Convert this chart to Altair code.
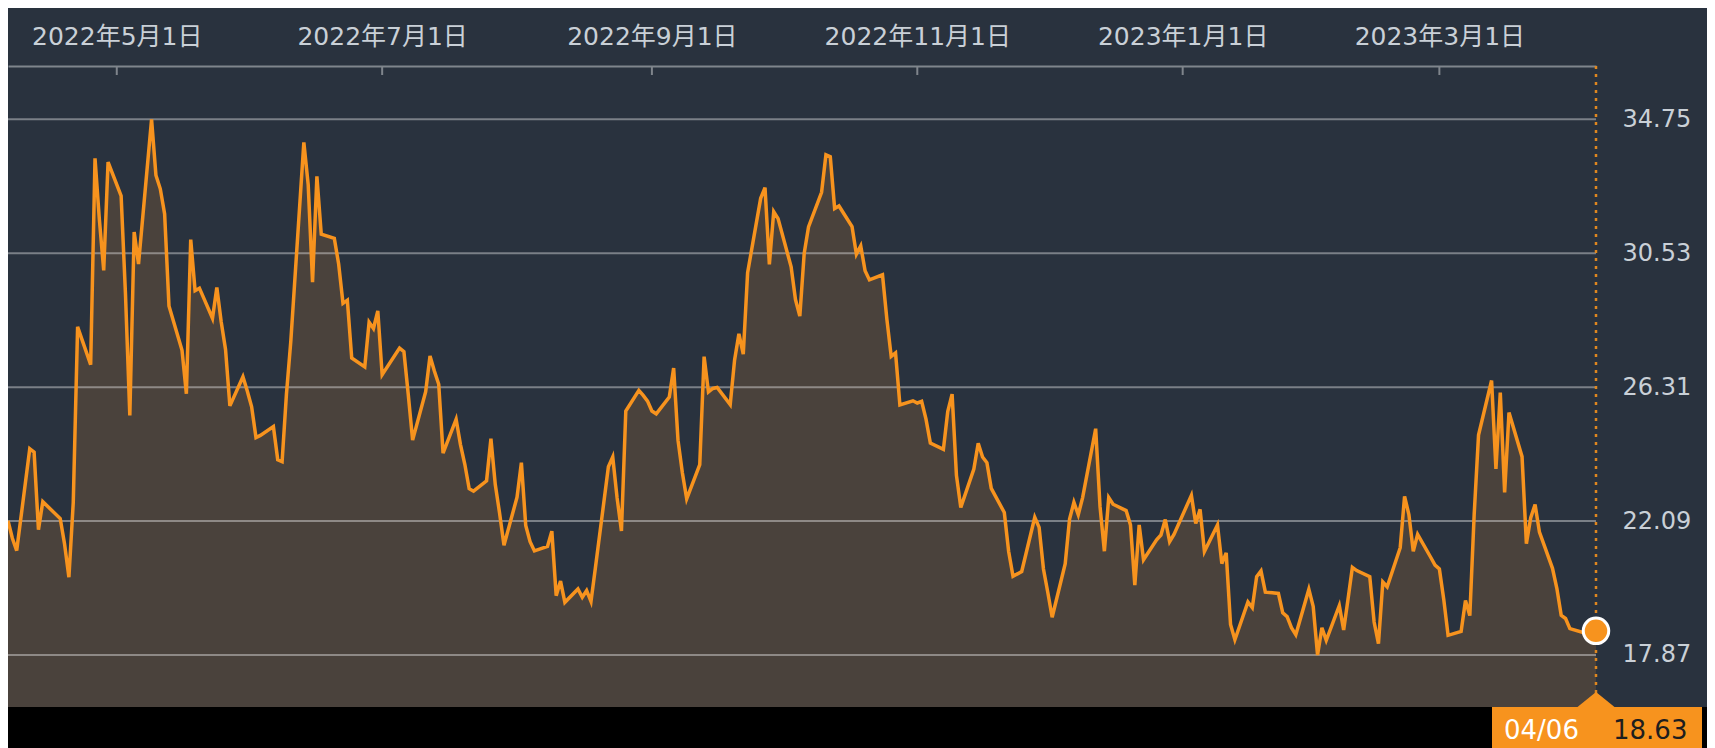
import altair as alt
import pandas as pd

# ---------------- data ----------------
dates = [
    "2022-04-06", "2022-04-07", "2022-04-08", "2022-04-11", "2022-04-12", "2022-04-13", "2022-04-14",
    "2022-04-18", "2022-04-19", "2022-04-20", "2022-04-21", "2022-04-22", "2022-04-25", "2022-04-26",
    "2022-04-27", "2022-04-28", "2022-04-29", "2022-05-02", "2022-05-03", "2022-05-04", "2022-05-05",
    "2022-05-06", "2022-05-09", "2022-05-10", "2022-05-11", "2022-05-12", "2022-05-13", "2022-05-16",
    "2022-05-17", "2022-05-18", "2022-05-19", "2022-05-20", "2022-05-23", "2022-05-24", "2022-05-25",
    "2022-05-26", "2022-05-27", "2022-05-30", "2022-05-31", "2022-06-01", "2022-06-02", "2022-06-03",
    "2022-06-06", "2022-06-07", "2022-06-08", "2022-06-09", "2022-06-10", "2022-06-13", "2022-06-14",
    "2022-06-15", "2022-06-16", "2022-06-17", "2022-06-20", "2022-06-21", "2022-06-22", "2022-06-23",
    "2022-06-24", "2022-06-27", "2022-06-28", "2022-06-29", "2022-06-30", "2022-07-01", "2022-07-05",
    "2022-07-06", "2022-07-07", "2022-07-08", "2022-07-11", "2022-07-12", "2022-07-13", "2022-07-14",
    "2022-07-15", "2022-07-18", "2022-07-19", "2022-07-20", "2022-07-21", "2022-07-22", "2022-07-25",
    "2022-07-26", "2022-07-27", "2022-07-28", "2022-07-29", "2022-08-01", "2022-08-02", "2022-08-03",
    "2022-08-04", "2022-08-05", "2022-08-08", "2022-08-09", "2022-08-10", "2022-08-11", "2022-08-12",
    "2022-08-15", "2022-08-16", "2022-08-17", "2022-08-18", "2022-08-19", "2022-08-22", "2022-08-23",
    "2022-08-24", "2022-08-25", "2022-08-26", "2022-08-29", "2022-08-30", "2022-08-31", "2022-09-01",
    "2022-09-02", "2022-09-05", "2022-09-06", "2022-09-07", "2022-09-08", "2022-09-09", "2022-09-12",
    "2022-09-13", "2022-09-14", "2022-09-15", "2022-09-16", "2022-09-19", "2022-09-20", "2022-09-21",
    "2022-09-22", "2022-09-23", "2022-09-26", "2022-09-27", "2022-09-28", "2022-09-29", "2022-09-30",
    "2022-10-03", "2022-10-04", "2022-10-05", "2022-10-06", "2022-10-07", "2022-10-10", "2022-10-11",
    "2022-10-12", "2022-10-13", "2022-10-14", "2022-10-17", "2022-10-18", "2022-10-19", "2022-10-20",
    "2022-10-21", "2022-10-24", "2022-10-25", "2022-10-26", "2022-10-27", "2022-10-28", "2022-10-31",
    "2022-11-01", "2022-11-02", "2022-11-03", "2022-11-04", "2022-11-07", "2022-11-08", "2022-11-09",
    "2022-11-10", "2022-11-11", "2022-11-14", "2022-11-15", "2022-11-16", "2022-11-17", "2022-11-18",
    "2022-11-21", "2022-11-22", "2022-11-23", "2022-11-25", "2022-11-28", "2022-11-29", "2022-11-30",
    "2022-12-01", "2022-12-02", "2022-12-05", "2022-12-06", "2022-12-07", "2022-12-08", "2022-12-09",
    "2022-12-12", "2022-12-13", "2022-12-14", "2022-12-15", "2022-12-16", "2022-12-19", "2022-12-20",
    "2022-12-21", "2022-12-22", "2022-12-23", "2022-12-26", "2022-12-27", "2022-12-28", "2022-12-29",
    "2022-12-30", "2023-01-03", "2023-01-04", "2023-01-05", "2023-01-06", "2023-01-09", "2023-01-10",
    "2023-01-11", "2023-01-12", "2023-01-13", "2023-01-16", "2023-01-17", "2023-01-18", "2023-01-19",
    "2023-01-20", "2023-01-23", "2023-01-24", "2023-01-25", "2023-01-26", "2023-01-27", "2023-01-30",
    "2023-01-31", "2023-02-01", "2023-02-02", "2023-02-03", "2023-02-06", "2023-02-07", "2023-02-08",
    "2023-02-09", "2023-02-10", "2023-02-13", "2023-02-14", "2023-02-15", "2023-02-16", "2023-02-17",
    "2023-02-20", "2023-02-21", "2023-02-22", "2023-02-23", "2023-02-24", "2023-02-27", "2023-02-28",
    "2023-03-01", "2023-03-02", "2023-03-03", "2023-03-06", "2023-03-07", "2023-03-08", "2023-03-09",
    "2023-03-10", "2023-03-13", "2023-03-14", "2023-03-15", "2023-03-16", "2023-03-17", "2023-03-20",
    "2023-03-21", "2023-03-22", "2023-03-23", "2023-03-24", "2023-03-27", "2023-03-28", "2023-03-29",
    "2023-03-30", "2023-03-31", "2023-04-03", "2023-04-04", "2023-04-05", "2023-04-06",
]

values = [
    22.10, 21.55, 21.16, 24.37, 24.26, 21.82, 22.70,
    22.17, 21.37, 20.32, 22.68, 28.21, 27.02, 33.52,
    31.60, 29.99, 33.40, 32.34, 29.25, 25.42, 31.20,
    30.19, 34.75, 32.99, 32.56, 31.77, 28.87, 27.47,
    26.10, 30.96, 29.35, 29.43, 28.48, 29.45, 28.37,
    27.50, 25.72, 26.64, 26.19, 25.69, 24.72, 24.79,
    25.07, 24.02, 23.96, 26.09, 27.75, 34.02, 32.69,
    29.62, 32.95, 31.13, 31.00, 30.19, 28.95, 29.05,
    27.23, 26.95, 28.36, 28.16, 28.71, 26.70, 27.54,
    27.43, 26.08, 24.64, 26.17, 27.29, 26.82, 26.40,
    24.23, 25.30, 24.50, 23.88, 23.11, 23.03, 23.36,
    24.69, 23.24, 22.33, 21.33, 22.84, 23.93, 21.95,
    21.44, 21.15, 21.29, 21.77, 19.74, 20.20, 19.53,
    19.95, 19.69, 19.90, 19.56, 20.60, 23.80, 24.11,
    22.82, 21.78, 25.56, 26.21, 26.05, 25.87, 25.56,
    25.47, 26.00, 26.91, 24.64, 23.61, 22.79, 23.87,
    27.27, 26.16, 26.27, 26.30, 25.76, 27.16, 27.99,
    27.35, 29.92, 32.26, 32.60, 30.18, 31.84, 31.62,
    30.10, 29.07, 28.55, 30.52, 31.36, 32.45, 33.63,
    33.57, 31.94, 32.02, 31.37, 30.50, 30.76, 29.98,
    29.69, 29.85, 28.46, 27.28, 27.39, 25.75, 25.88,
    25.81, 25.86, 25.30, 24.55, 24.35, 25.54, 26.09,
    23.53, 22.52, 23.73, 24.54, 24.11, 23.93, 23.12,
    22.36, 21.13, 20.35, 20.50, 22.21, 21.89, 20.58,
    19.84, 19.06, 20.75, 22.15, 22.68, 22.29, 22.83,
    25.00, 22.55, 21.14, 22.83, 22.62, 22.42, 21.97,
    20.07, 21.97, 20.87, 21.50, 21.65, 22.14, 21.44,
    21.67, 22.90, 22.01, 22.46, 21.13, 21.97, 20.75,
    21.09, 18.83, 18.35, 19.54, 19.36, 20.34, 20.52,
    19.85, 19.81, 19.20, 19.08, 18.73, 18.51, 19.94,
    19.40, 17.87, 18.73, 18.33, 19.43, 18.66, 19.63,
    20.63, 20.53, 20.34, 18.91, 18.23, 20.17, 20.02,
    21.25, 22.87, 22.29, 21.14, 21.67, 20.95, 20.70,
    20.58, 19.63, 18.49, 18.61, 19.59, 19.11, 22.30,
    24.80, 26.52, 23.73, 26.14, 22.99, 25.51, 24.12,
    21.38, 22.20, 22.61, 21.74, 20.60, 19.97, 19.12,
    19.02, 18.70, 18.58, 18.58, 18.60, 18.63,
]

y_ticks = [17.87, 22.09, 26.31, 30.53, 34.75]
x_ticks = ["2022-05-01", "2022-07-01", "2022-09-01", "2022-11-01", "2023-01-01", "2023-03-01"]
x_start = "2022-04-06"
x_end = "2023-04-06"

# ---------------- styling ----------------
W, H = 1588, 641
BG = "#29323e"
ORANGE = "#f7931e"
AREA = "#4a423c"
TEXT = "#c9d0d7"
GRAYLINE = "#7f858c"
FONT = "DejaVu Sans, Noto Sans CJK JP, sans-serif"


def dt(s):
    y, m, d = (int(p) for p in s.split("-"))
    return alt.DateTime(year=y, month=m, date=d)


df = pd.DataFrame({"date": [d + "T00:00:00" for d in dates], "value": values})
last = df.iloc[[-1]].copy()
last["dlabel"] = dates[-1][5:7] + "/" + dates[-1][8:10]
last["vlabel"] = f"{values[-1]:.2f}"

x_scale = alt.Scale(domain=[dt(x_start), dt(x_end)])
y_scale = alt.Scale(domain=[16.231, 36.43], nice=False, zero=False)

x_axis = alt.Axis(
    orient="top", values=[dt(s) for s in x_ticks], format="%Y年%-m月%-d日",
    labelColor=TEXT, labelFontSize=25, labelFont=FONT, ticks=False,
    domain=True, domainColor=GRAYLINE, domainWidth=2, grid=False,
    labelPadding=22, labelBaseline="alphabetic", title=None,
    labelFlush=False, labelOverlap=False, labelLimit=400,
)
y_axis = alt.Axis(
    orient="right", values=y_ticks, format=".2f", labelColor=TEXT,
    labelFontSize=24, labelFont=FONT, ticks=False, domain=False, grid=False,
    labelPadding=26, title=None, labelOverlap=False, labelFlush=False,
    labelLimit=400,
)


def X(field):
    return alt.X(field, scale=x_scale, axis=x_axis, title=None)


def Y(field):
    return alt.Y(field, scale=y_scale, axis=y_axis, title=None)


base = alt.Chart(df)

area = base.mark_area(color=AREA, opacity=1).encode(x=X("date:T"), y=Y("value:Q"))

grid = alt.Chart(pd.DataFrame({"value": y_ticks})).mark_rule(
    color="white", opacity=0.38, strokeWidth=2
).encode(y=Y("value:Q"))

xticks = alt.Chart(pd.DataFrame({"date": [s + "T00:00:00" for s in x_ticks]})).mark_rule(
    color=GRAYLINE, strokeWidth=2
).encode(x=X("date:T"), y=alt.value(0), y2=alt.value(9))

dotted = alt.Chart(last).mark_rule(
    color="#e0871f", strokeDash=[3, 5], strokeWidth=2.5
).encode(x=X("date:T"), y=alt.value(0), y2=alt.value(H))

line = base.mark_line(color=ORANGE, strokeWidth=3.5).encode(x=X("date:T"), y=Y("value:Q"))

strip = alt.Chart(last).mark_rect(color="#000000").encode(
    x=alt.value(0), x2=alt.value(1699), y=alt.value(H), y2=alt.value(H + 41),
)

box = alt.Chart(last).mark_rect(color=ORANGE).encode(
    x=alt.value(1484), x2=alt.value(1694), y=alt.value(H), y2=alt.value(H + 41),
)

tri = alt.Chart(last).mark_point(
    shape="M -1 0 L 1 0 L 0 -0.81 Z", size=1369, filled=True, color=ORANGE, opacity=1
).encode(x=X("date:T"), y=alt.value(H))

marker = alt.Chart(last).mark_point(
    shape="circle", size=650, filled=True, fill=ORANGE, stroke="white",
    strokeWidth=3, opacity=1, fillOpacity=1, strokeOpacity=1
).encode(x=X("date:T"), y=Y("value:Q"))

dtext = alt.Chart(last).mark_text(
    align="left", baseline="alphabetic", font=FONT, fontSize=26, color="white"
).encode(x=alt.value(1496), y=alt.value(H + 32), text="dlabel:N")

vtext = alt.Chart(last).mark_text(
    align="left", baseline="alphabetic", font=FONT, fontSize=26, color="#1e1e1e"
).encode(x=alt.value(1605), y=alt.value(H + 32), text="vlabel:N")

chart = alt.layer(
    area, grid, xticks, dotted, line, strip, box, tri, marker, dtext, vtext
).properties(
    width=W, height=H,
    padding={"left": 0, "top": 58, "right": 111, "bottom": 41},
    autosize=alt.AutoSizeParams(type="none"),
    background=BG,
).configure_view(stroke=None)

chart.save("out.html", embed_options={"renderer": "svg", "actions": False})
